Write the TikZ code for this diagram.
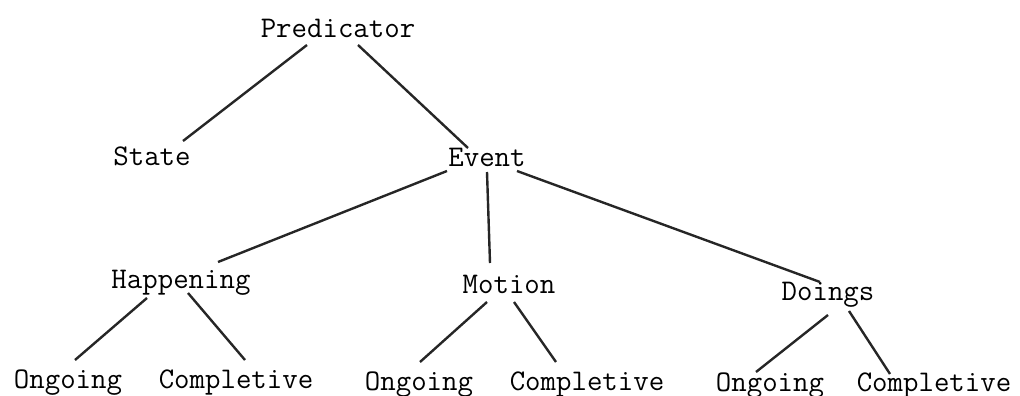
\documentclass[tikz,border=0pt]{standalone}
\usepackage{tikz}
\usetikzlibrary{calc}

\begin{document}
\begin{tikzpicture}[x=1pt,y=-1pt
	,line width=2.4pt
	,every node/.style={font=\fontsize{30}{34}\selectfont\ttfamily,anchor=base,inner sep=0pt}]
  \tikzstyle{branch}=[draw,black!85]

  \useasboundingbox (0,0) rectangle (1020,396);

  % top
  \node (pred)   at (338,38)  {Predicator};
  % 2nd row
  \node (state)  at (152,165) {State};
  \node (event)  at (487,166) {Event};
  % 3rd row
  \node (happ)   at (181,288) {Happening};
  \node (motion) at (509,293) {Motion};
  \node (doings) at (828,300) {Doings};
  % leaves
  \node (ongh)   at (68,388)  {Ongoing};
  \node (comph)  at (236,388) {Completive};
  \node (ongm)   at (419,390) {Ongoing};
  \node (compm)  at (587,390) {Completive};
  \node (ongd)   at (770,391) {Ongoing};
  \node (compd)  at (934,391) {Completive};

  % predicator
  \path [branch] ($(pred.base)+(-31,7)$)  -- ($(state.base)+(31,-24)$);
  \path [branch] ($(pred.base)+(20,7)$)   -- ($(event.base)+(-19,-18)$);
  % event
  \path [branch] ($(event.base)+(-40,5)$) -- ($(happ.base)+(37,-26)$);
  \path [branch] ($(event.base)+(0,6)$)   -- ($(motion.base)+(-19,-30)$);
  \path [branch] ($(event.base)+(30,5)$)  -- ($(doings.base)+(-8,-18)$);
  % happening
  \path [branch] ($(happ.base)+(-34,10)$) -- ($(ongh.base)+(7,-28)$);
  \path [branch] ($(happ.base)+(7,5)$)    -- ($(comph.base)+(9,-28)$);
  % motion
  \path [branch] ($(motion.base)+(-22,9)$) -- ($(ongm.base)+(1,-28)$);
  \path [branch] ($(motion.base)+(5,9)$)   -- ($(compm.base)+(-31,-28)$);
  % doings
  \path [branch] ($(doings.base)+(0,15)$)  -- ($(ongd.base)+(-14,-19)$);
  \path [branch] ($(doings.base)+(21,11)$) -- ($(compd.base)+(-44,-17)$);

\end{tikzpicture}
\end{document}
